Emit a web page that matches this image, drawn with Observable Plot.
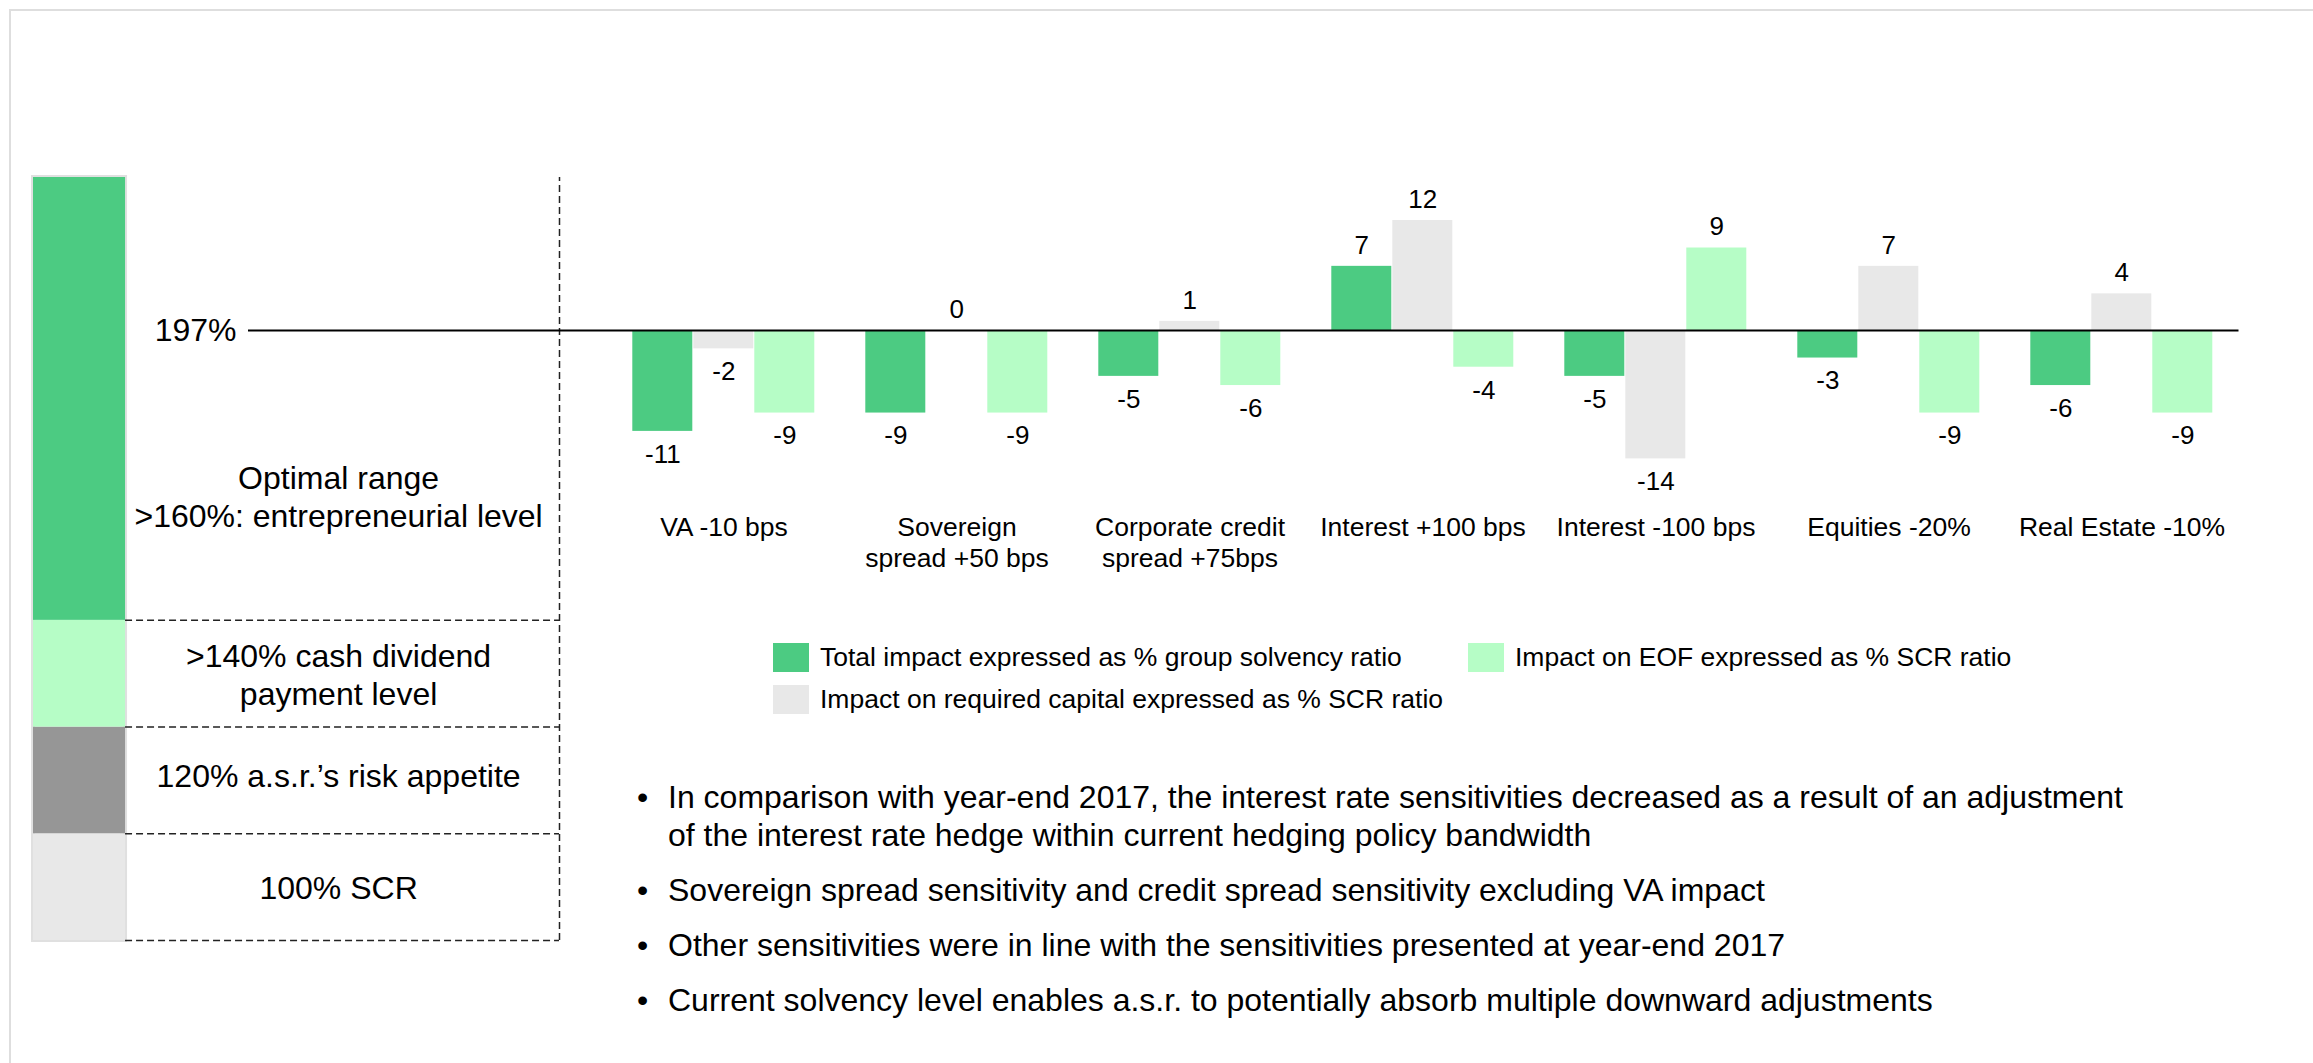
<!DOCTYPE html>
<html>
<head>
<meta charset="utf-8">
<script src="https://cdn.jsdelivr.net/npm/d3@7"></script>
<script src="https://cdn.jsdelivr.net/npm/@observablehq/plot@0.6"></script>
<style>
  html, body { margin: 0; padding: 0; background: #fff; }
  body { width: 2313px; height: 1063px; position: relative; overflow: hidden;
         font-family: "Liberation Sans", Arial, sans-serif; color: #000; }
  .layer { position: absolute; left: 0; top: 0; }
  .layer svg { display: block; }
  #border { position: absolute; left: 9px; top: 9px; right: -10px; bottom: -10px;
            border-top: 2px solid #dedede; border-left: 2px solid #dedede; }
  .item { position: absolute; display: flex; align-items: center; height: 30px;
          font-size: 26.5px; white-space: nowrap; }
  .sw { width: 36px; height: 29px; margin-right: 11px; flex: none; }
  #bullets { position: absolute; left: 637px; top: 778px; font-size: 32px; line-height: 38px; }
  .b { display: flex; margin-bottom: 17px; white-space: nowrap; }
  .b .dot { width: 31px; flex: none; }
</style>
</head>
<body>
<div id="border"></div>
<div id="ladder" class="layer"></div>
<div id="bars" class="layer"></div>
<div id="overlay" class="layer"></div>
<div id="legend"></div>
<div id="bullets"></div>
<script>
// ---------- data ----------
const categories = [
  "VA -10 bps",
  "Sovereign\nspread +50 bps",
  "Corporate credit\nspread +75bps",
  "Interest +100 bps",
  "Interest -100 bps",
  "Equities -20%",
  "Real Estate -10%"
];
const seriesNames = [
  "Total impact expressed as % group solvency ratio",
  "Impact on required capital expressed as % SCR ratio",
  "Impact on EOF expressed as % SCR ratio"
];
const totalImpact           = [-11, -9, -5,  7,  -5, -3, -6];
const requiredCapitalImpact = [ -2,  0,  1, 12, -14,  7,  4];
const eofImpact             = [ -9, -9, -6, -4,   9, -9, -9];
const seriesColors = ["#4ccb82", "#e8e8e8", "#b6fdc6"];

const solvencyRatio = 197;

const ladderLabels = [
  "100% SCR",
  "120% a.s.r.’s risk appetite",
  ">140% cash dividend\npayment level",
  "Optimal range\n>160%: entrepreneurial level"
];
const ladderFrom = [100, 120, 140, 160];
const ladderTo   = [120, 140, 160, 243];
const ladderColors = ["#e8e8e8", "#969696", "#b6fdc6", "#4ccb82"];

const bulletTexts = [
  "In comparison with year-end 2017, the interest rate sensitivities decreased as a result of an adjustment\nof the interest rate hedge within current hedging policy bandwidth",
  "Sovereign spread sensitivity and credit spread sensitivity excluding VA impact",
  "Other sensitivities were in line with the sensitivities presented at year-end 2017",
  "Current solvency level enables a.s.r. to potentially absorb multiple downward adjustments"
];

// ---------- derived tables ----------
const seriesValues = [totalImpact, requiredCapitalImpact, eofImpact];
const rows = categories.flatMap((c, i) =>
  seriesValues.map((vals, j) => ({category: c, series: seriesNames[j], value: vals[i]})));
const ladder = ladderLabels.map((label, i) =>
  ({label, from: ladderFrom[i], to: ladderTo[i], color: ladderColors[i]}));

const font = "Liberation Sans, Arial, sans-serif";
const W = 2313, H = 620;
const yScale = {domain: [-14, 12], range: [458.4, 220]};

// ---------- ladder panel ----------
const barShare = 0.175;
const labelAt = 0.58;
const ladderPlot = Plot.plot({
  width: W, height: 1063,
  marginLeft: 33, marginRight: 1754, marginTop: 0, marginBottom: 0,
  style: {background: "transparent", fontSize: "32px", fontFamily: font, color: "#000"},
  x: {domain: [0, 1], axis: null},
  y: {domain: [100, 243], range: [940, 177], axis: null},
  color: {type: "identity"},
  marks: [
    Plot.rect([ladder[0]], {x1: 0, x2: barShare, y1: ladderFrom[0], y2: ladderTo[3],
      fill: "none", stroke: "#e0e0e0", strokeWidth: 4}),
    Plot.rect(ladder, {x1: 0, x2: barShare, y1: "from", y2: "to", fill: d => d.color}),
    Plot.ruleY(ladderFrom, {x1: barShare, x2: 1, stroke: "#222", strokeWidth: 1.5, strokeDasharray: "7,4"}),
    Plot.ruleX([1], {y1: ladderFrom[0], y2: ladderTo[3], stroke: "#222", strokeWidth: 1.5, strokeDasharray: "7,4"}),
    Plot.text([ladder[0], ladder[2]], {x: labelAt, y: d => (d.from + d.to) / 2,
      text: "label", lineHeight: 1.2, fill: "#000"}),
    Plot.text([ladder[1]], {x: labelAt, y: d => (d.from + d.to) / 2,
      text: "label", lineHeight: 1.2, fill: "#000", dy: -6}),
    Plot.text([ladder[3]], {x: labelAt, y: d => (d.from + d.to) / 2,
      text: "label", lineHeight: 1.2, fill: "#000", dy: 97})
  ]
});
document.getElementById("ladder").append(ladderPlot);

// ---------- grouped bars ----------
const barsPlot = Plot.plot({
  width: W, height: H,
  marginLeft: 630.7, marginRight: 99.7, marginTop: 0, marginBottom: H - 506,
  style: {background: "transparent", fontSize: "26px", fontFamily: font, color: "#000"},
  fx: {domain: categories, paddingInner: 0.215, paddingOuter: 0, label: null},
  x: {domain: seriesNames, paddingInner: 0.0163, paddingOuter: 0, axis: null},
  y: {...yScale, axis: null},
  color: {domain: seriesNames, range: seriesColors},
  marks: [
    Plot.barY(rows, {fx: "category", x: "series", y: "value", fill: "series"}),
    Plot.text(rows.filter(d => d.value >= 0), {fx: "category", x: "series", y: "value",
      text: d => String(d.value), dy: -21, fill: "#000"}),
    Plot.text(rows.filter(d => d.value < 0), {fx: "category", x: "series", y: "value",
      text: d => String(d.value), dy: 23, fill: "#000"}),
    Plot.axisFx({anchor: "bottom", tickSize: 0, tickPadding: 6.5, label: null,
      lineHeight: 1.2, fontSize: 26.5, fill: "#000"})
  ]
});
document.getElementById("bars").append(barsPlot);

// ---------- zero line & current ratio ----------
const overlayPlot = Plot.plot({
  width: W, height: H,
  marginLeft: 248, marginRight: 74.5, marginTop: 0, marginBottom: H - 506,
  style: {background: "transparent", fontSize: "32px", fontFamily: font, color: "#000"},
  y: {...yScale, axis: null},
  marks: [
    Plot.ruleY([0], {stroke: "#000", strokeWidth: 2}),
    Plot.text([0], {y: d => d, text: () => `${solvencyRatio}%`, frameAnchor: "left",
      textAnchor: "end", dx: -12, fill: "#000"})
  ]
});
document.getElementById("overlay").append(overlayPlot);

// ---------- legend ----------
const legendSpots = [{left: 773, top: 642}, {left: 773, top: 684}, {left: 1468, top: 642}];
const legend = document.getElementById("legend");
seriesNames.forEach((name, i) => {
  const item = document.createElement("div");
  item.className = "item";
  item.style.left = legendSpots[i].left + "px";
  item.style.top = legendSpots[i].top + "px";
  const sw = document.createElement("div");
  sw.className = "sw";
  sw.style.background = seriesColors[i];
  const t = document.createElement("span");
  t.textContent = name;
  item.append(sw, t);
  legend.append(item);
});

// ---------- bullets ----------
const bl = document.getElementById("bullets");
bulletTexts.forEach(txt => {
  const b = document.createElement("div");
  b.className = "b";
  const d = document.createElement("span");
  d.className = "dot";
  d.textContent = "•";
  const t = document.createElement("span");
  t.innerHTML = txt.split("\n").map(s => s.replace(/&/g, "&amp;").replace(/</g, "&lt;")).join("<br>");
  b.append(d, t);
  bl.append(b);
});
</script>
</body>
</html>
